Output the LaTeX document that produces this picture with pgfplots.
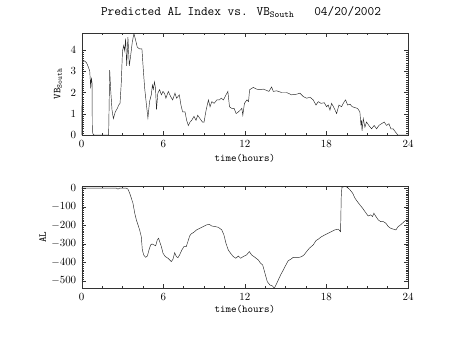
\documentclass[border=0pt]{standalone}
\usepackage{pgfplots}
\pgfplotsset{compat=1.18}
\pgfplotstableread{
t v
0 0
0.05 3.41
0.22 3.49
0.34 3.41
0.46 3.25
0.59 3.01
0.63 2.6
0.66 2.2
0.71 2.7
0.76 2.45
0.78 0.2
0.83 0.05
0.9 0
1.98 0
2.06 3.05
2.13 2.13
2.23 1.17
2.33 0.77
2.47 1.09
2.62 1.25
2.72 1.41
2.82 1.49
2.91 2.45
3.0 3.95
3.09 4.21
3.16 3.97
3.23 4.53
3.31 3.25
3.4 4.61
3.5 3.25
3.6 3.73
3.72 4.37
3.84 4.77
3.94 4.53
4.09 4.13
4.26 4.05
4.43 4.05
4.53 3.09
4.63 2.21
4.75 1.49
4.87 0.8
4.99 1.57
5.12 1.9
5.2 2.35
5.27 2.15
5.35 2.5
5.43 2.2
5.5 1.2
5.6 1.97
5.73 2.13
5.86 1.89
5.98 2.05
6.1 1.95
6.19 1.73
6.37 2.05
6.54 1.81
6.69 1.65
6.86 1.97
6.98 1.73
7.18 1.89
7.3 1.41
7.42 1.09
7.6 1.09
7.72 0.69
7.84 0.45
7.97 0.61
8.09 0.69
8.26 0.88
8.41 0.69
8.53 0.93
8.7 0.77
8.88 0.61
9.0 0.61
9.15 1.17
9.32 1.65
9.44 1.33
9.57 1.57
9.74 1.49
9.94 1.65
10.13 1.65
10.26 1.73
10.43 1.65
10.55 1.81
10.75 2.05
10.87 1.33
11.04 1.25
11.21 1.25
11.36 1.01
11.53 1.09
11.66 1.17
11.78 1.25
11.85 0.93
11.97 1.49
12.15 1.65
12.27 1.57
12.35 2.13
12.62 2.24
12.86 2.16
13.11 2.13
13.35 2.16
13.6 2.1
13.77 2.05
13.97 2.26
14.09 2.05
14.33 2.08
14.7 2.0
15.07 2.0
15.44 1.89
15.81 1.92
16.05 1.97
16.3 1.81
16.55 1.73
16.79 1.78
17.03 1.65
17.23 1.41
17.4 1.57
17.6 1.49
17.84 1.52
18.01 1.33
18.13 1.41
18.26 1.17
18.38 1.49
18.58 1.25
18.75 1.01
18.92 1.41
19.11 1.33
19.31 1.57
19.41 1.65
19.56 1.41
19.73 1.45
19.9 1.33
20.09 1.29
20.29 1.25
20.46 1.09
20.54 0.45
20.58 0.69
20.62 0.2
20.71 0.77
20.83 0.37
20.95 0.61
21.12 0.45
21.32 0.29
21.51 0.45
21.69 0.29
21.86 0.45
22.05 0.53
22.25 0.61
22.42 0.45
22.6 0.53
22.74 0.29
22.91 0.29
23.09 0.13
23.25 0
24 0
}\vbtable
\pgfplotstableread{
t v
0 0
2.55 0
2.67 -5
2.79 0
3.28 0
3.4 -5
3.53 -27
3.65 -54
3.77 -81
3.9 -135
4.02 -171
4.14 -198
4.26 -225
4.38 -261
4.46 -333
4.56 -360
4.7 -373
4.83 -366
4.95 -333
5.07 -306
5.17 -301
5.31 -306
5.44 -311
5.56 -279
5.66 -270
5.73 -288
5.86 -315
5.98 -351
6.15 -369
6.35 -378
6.47 -387
6.59 -396
6.71 -384
6.84 -348
6.96 -369
7.08 -375
7.2 -360
7.37 -333
7.52 -315
7.69 -315
7.81 -288
7.94 -258
8.06 -246
8.21 -240
8.45 -225
8.7 -216
8.94 -207
9.19 -198
9.39 -195
9.56 -204
9.8 -207
10.05 -211
10.3 -225
10.46 -252
10.61 -297
10.78 -333
10.95 -351
11.15 -369
11.34 -378
11.52 -366
11.69 -378
11.88 -369
12.13 -360
12.33 -342
12.5 -360
12.74 -373
12.99 -387
13.16 -405
13.31 -414
13.48 -459
13.65 -504
13.84 -522
14.04 -528
14.16 -540
14.29 -522
14.46 -495
14.63 -468
14.83 -441
15.02 -414
15.19 -391
15.37 -384
15.56 -373
15.76 -373
16.0 -373
16.18 -369
16.35 -360
16.54 -342
16.74 -324
17.03 -306
17.23 -283
17.4 -275
17.65 -261
17.89 -252
18.13 -243
18.38 -234
18.62 -225
18.87 -221
19.04 -234
19.09 -45
19.14 5
19.36 9
19.53 5
19.73 -9
19.93 -27
20.1 -54
20.27 -72
20.46 -90
20.66 -108
20.83 -126
21.07 -150
21.25 -144
21.39 -153
21.49 -135
21.64 -153
21.81 -171
21.98 -180
22.18 -180
22.37 -189
22.55 -207
22.72 -216
22.92 -221
23.11 -225
23.28 -207
23.45 -198
23.65 -185
23.8 -175
23.95 -171
}\altable
\pgfplotsset{
  idl/.style={
    scale only axis, width=326.3bp, height=102bp,
    anchor=south west,
    xmin=0, xmax=24, xtick={0,6,12,18,24}, minor x tick num=3,
    minor y tick num=9,
    tick align=inside,
    major tick length=4bp, minor tick length=2bp,
    axis line style={line width=0.4pt, black!80},
    every tick/.style={line width=0.35pt, black!80},
    tick label style={font=\fontsize{10.5}{12}\selectfont},
    xticklabel style={yshift=-2bp},
    yticklabel style={xshift=-2bp},
    label style={font=\ttfamily\fontsize{10.5}{12}\selectfont},
    xlabel={time(hours)},
  }
}
\begin{document}
\begin{tikzpicture}
\path[use as bounding box] (0,0) rectangle (453bp,340bp);
\node[font=\ttfamily\fontsize{13}{15}\selectfont, anchor=center] at (241bp,328bp)
  {Predicted AL Index vs. VB\textsubscript{South}\ \ \ 04/20/2002};
\begin{axis}[idl, at={(81.7bp,205bp)},
  ymin=0, ymax=4.8, ytick={0,1,2,3,4},
  ylabel={VB\textsubscript{South}},
  ylabel style={at={(axis description cs:-0.0726,0.5)}, anchor=center},
  xlabel style={at={(axis description cs:0.5,-0.225)}, anchor=center},
]
\addplot[black!85, line width=0.45pt] table[x=t,y=v] {\vbtable};
\end{axis}
\begin{axis}[idl, at={(81.7bp,51.7bp)},
  ymin=-540, ymax=10, ytick={-500,-400,-300,-200,-100,0},
  ylabel={AL},
  ylabel style={at={(axis description cs:-0.1195,0.5)}, anchor=center},
  xlabel style={at={(axis description cs:0.5,-0.205)}, anchor=center},
]
\addplot[black!85, line width=0.45pt] table[x=t,y=v] {\altable};
\end{axis}
\end{tikzpicture}
\end{document}
